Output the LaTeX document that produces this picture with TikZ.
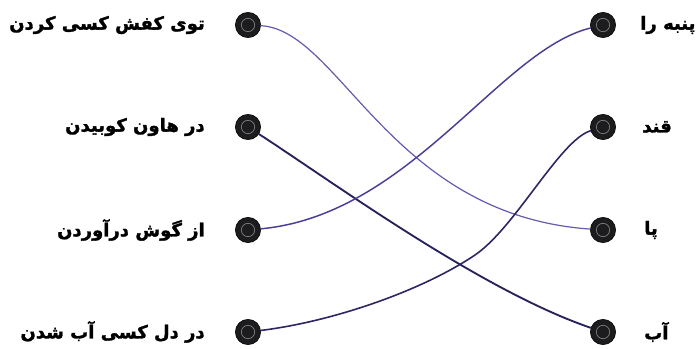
\documentclass[tikz,border=0pt]{standalone}
\usepackage{fontspec}
\newfontfamily\farsi[Script=Arabic, BoldFeatures={FakeBold=1.6}]{DejaVu Sans}
\TeXXeTstate=1
\usepackage{tikz}
\usetikzlibrary{calc}
\definecolor{inklight}{RGB}{100, 90, 175}
\definecolor{inkmid}{RGB}{72, 62, 150}
\definecolor{inkdark}{RGB}{40, 34, 92}
\definecolor{dotblack}{RGB}{28, 28, 30}

\begin{document}
\begin{tikzpicture}[x=0.75pt, y=-0.75pt,
  dot/.style={circle, fill=dotblack, draw=black, inner sep=0pt, minimum size=19pt,
    path picture={\draw[black!50, line width=0.5pt] (path picture bounding box.center) circle (5pt);}},
  lbl/.style={font=\farsi\bfseries\fontsize{13.5}{16}\selectfont, inner sep=0pt},
  link/.style={line width=1.1pt, line cap=round}]
  \useasboundingbox (0, 0) rectangle (700, 349);

  % Left column
  \node[dot] (l1) at (248, 25) {};
  \node[dot] (l2) at (248, 127) {};
  \node[dot] (l3) at (248, 230) {};
  \node[dot] (l4) at (248, 332) {};
  \node[lbl, anchor=east] (tl1) at (205, 25) {\beginR توی کفش کسی کردن\endR};
  \node[lbl, anchor=east] (tl2) at (205, 127) {\beginR در هاون کوبیدن\endR};
  \node[lbl, anchor=east] (tl3) at (205, 230) {\beginR از گوش درآوردن\endR};
  \node[lbl, anchor=east] (tl4) at (205, 332) {\beginR در دل کسی آب شدن\endR};

  % Right column
  \node[dot] (r1) at (603, 25) {};
  \node[dot] (r2) at (603, 127) {};
  \node[dot] (r3) at (603, 230) {};
  \node[dot] (r4) at (603, 332) {};
  \node[lbl, anchor=west] (tr1) at (640, 25) {\beginR پنبه را\endR};
  \node[lbl, anchor=west] (tr2) at (642, 127) {\beginR قند\endR};
  \node[lbl, anchor=west] (tr3) at (644, 230) {\beginR پا\endR};
  \node[lbl, anchor=west] (tr4) at (644, 332) {\beginR آب\endR};

  % Matching lines
  \draw[link, inklight, line width=0.9pt] (l1) .. controls (340, 30) and (390, 215) .. (r3);
  \draw[link, inkdark, line width=1.4pt] (l2) .. controls (330, 180) and (480, 290) .. (r4);
  \draw[link, inkmid] (l3) .. controls (410, 215) and (500, 50) .. (r1);
  \draw[link, inkdark!85!inkmid, line width=1.2pt] (l4) .. controls (330, 322) and (420, 292) .. (475, 255)
    .. controls (515, 228) and (560, 140) .. (r2);
\end{tikzpicture}
\end{document}
